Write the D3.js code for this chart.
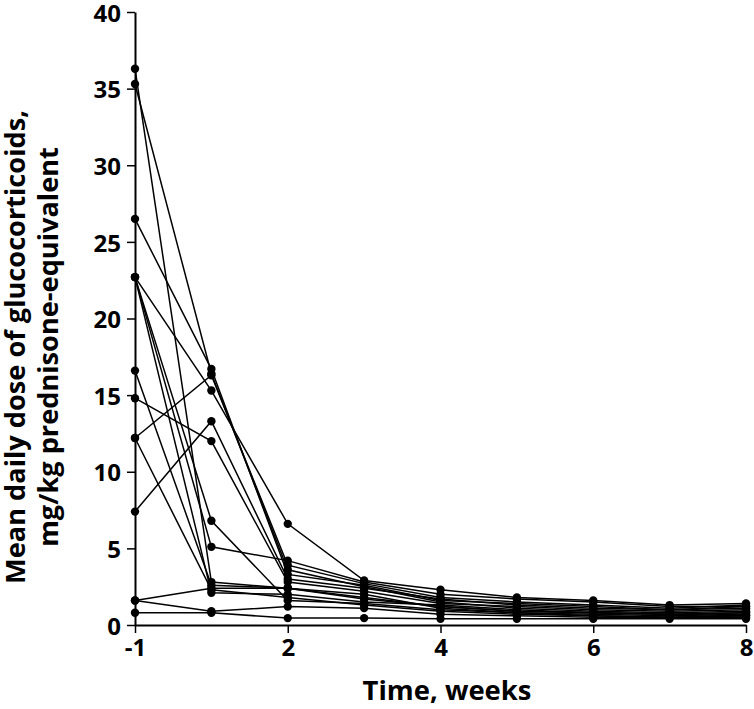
<!DOCTYPE html>
<html>
<head>
<meta charset="utf-8">
<script src="https://cdn.jsdelivr.net/npm/d3@7"></script>
<style>
  html, body { margin: 0; padding: 0; background: #fff; }
  svg { display: block; }
  text { font-family: "Open Sans", "DejaVu Sans", sans-serif; font-weight: bold; fill: #000; }
</style>
</head>
<body>
<svg id="chart" width="754" height="709"></svg>
<script>
// ---- data ----
const weeks = [-1, 1, 2, 3, 4, 5, 6, 7, 8];
const xTickLabels = [-1, 2, 4, 6, 8];
const yTickValues = [0, 5, 10, 15, 20, 25, 30, 35, 40];

const patient01 = [36.3, 2.8, 2.4, 1.8, 1.2, 0.9, 0.8, 0.7, 0.6];
const patient02 = [35.3, 16.4, 3.6, 2.5, 1.5, 1.1, 0.9, 0.8, 0.9];
const patient03 = [26.5, 16.7, 3.3, 2.6, 1.6, 1.4, 1.2, 1.0, 1.1];
const patient04 = [22.7, 15.3, 6.6, 2.9, 2.3, 1.8, 1.6, 1.3, 1.4];
const patient05 = [22.7, 6.8, 1.6, 1.4, 1.0, 0.8, 0.7, 0.6, 0.7];
const patient06 = [22.7, 5.1, 4.2, 2.8, 2.0, 1.7, 1.5, 1.2, 1.2];
const patient07 = [22.7, 2.1, 2.0, 1.5, 1.3, 1.0, 0.8, 0.7, 0.8];
const patient08 = [16.6, 2.6, 2.4, 2.0, 1.1, 0.8, 0.6, 0.5, 0.6];
const patient09 = [14.8, 12.0, 2.8, 2.2, 1.4, 1.2, 1.0, 0.9, 1.0];
const patient10 = [12.2, 16.3, 3.9, 2.7, 1.8, 1.5, 1.3, 1.1, 1.3];
const patient11 = [12.2, 2.3, 1.8, 1.3, 0.9, 0.7, 0.6, 0.5, 0.5];
const patient12 = [7.4, 13.3, 3.0, 2.4, 1.7, 1.3, 1.1, 1.0, 1.2];
const patient13 = [1.6, 2.4, 2.4, 1.7, 1.2, 0.9, 0.8, 0.7, 0.8];
const patient14 = [1.6, 0.9, 1.2, 1.1, 0.7, 0.6, 0.5, 0.5, 0.6];
const patient15 = [0.8, 0.8, 0.45, 0.45, 0.4, 0.4, 0.4, 0.4, 0.4];

const patients = [patient01, patient02, patient03, patient04, patient05,
  patient06, patient07, patient08, patient09, patient10, patient11,
  patient12, patient13, patient14, patient15];

const yLabel1 = "Mean daily dose of glucocorticoids,";
const yLabel2 = "mg/kg prednisone-equivalent";
const xLabel = "Time, weeks";

// ---- chart ----
const svg = d3.select("#chart");
const x = d3.scalePoint().domain(weeks).range([135, 746]);
const y = d3.scaleLinear().domain([0, 40]).range([625, 12]);

const line = d3.line()
  .x((d, i) => x(weeks[i]))
  .y(d => y(d));

const g = svg.append("g");

g.selectAll("path.series")
  .data(patients)
  .join("path")
  .attr("class", "series")
  .attr("d", line)
  .attr("fill", "none")
  .attr("stroke", "#000")
  .attr("stroke-width", 1.5);

patients.forEach(p => {
  g.selectAll(null)
    .data(p)
    .join("circle")
    .attr("cx", (d, i) => x(weeks[i]))
    .attr("cy", d => y(d))
    .attr("r", 4.2)
    .attr("fill", "#000");
});

// axes
const yAxis = d3.axisLeft(y).tickValues(yTickValues).tickSize(8).tickSizeOuter(0).tickPadding(6);
const xAxis = d3.axisBottom(x).tickValues(xTickLabels).tickSize(8).tickSizeOuter(0).tickPadding(6);

const gy = svg.append("g").attr("transform", "translate(135,0)").call(yAxis);
const gx = svg.append("g").attr("transform", "translate(0,625)").call(xAxis);

[gx, gy].forEach(a => {
  a.select(".domain").attr("stroke", "#000").attr("stroke-width", 2);
  a.selectAll(".tick line").attr("stroke", "#000").attr("stroke-width", 1.5);
  a.selectAll(".tick text").attr("font-size", 24).attr("font-family", "Open Sans").attr("font-weight", "bold").attr("fill", "#000");
});
gx.selectAll(".tick text").attr("dy", "0.71em");
gy.selectAll(".tick text").attr("dy", "0.38em");

// axis labels
function fitSize(sel, target) {
  const len = sel.node().getComputedTextLength();
  const fs = parseFloat(sel.attr("font-size"));
  return fs * target / len;
}

const yl1 = svg.append("text")
  .attr("transform", "translate(25,347) rotate(-90)")
  .attr("text-anchor", "middle")
  .attr("font-size", 30)
  .text(yLabel1);
const fsY = fitSize(yl1, 474);
yl1.attr("font-size", fsY);

svg.append("text")
  .attr("transform", "translate(58,347) rotate(-90)")
  .attr("text-anchor", "middle")
  .attr("font-size", fsY)
  .text(yLabel2);

const xl = svg.append("text")
  .attr("x", 447)
  .attr("y", 700)
  .attr("text-anchor", "middle")
  .attr("font-size", 28)
  .text(xLabel);
xl.attr("font-size", fitSize(xl, 169));
</script>
</body>
</html>
